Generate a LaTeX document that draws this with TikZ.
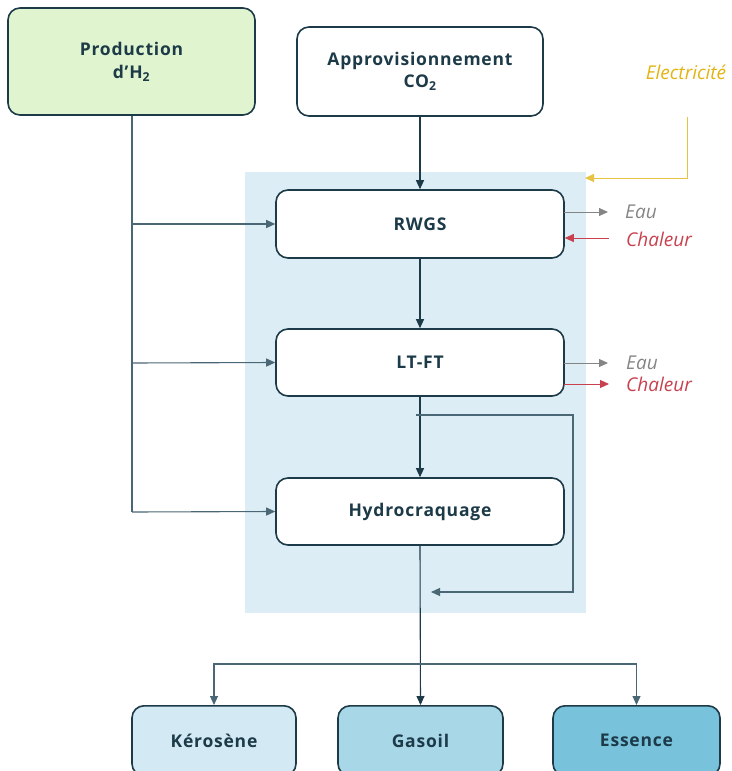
\documentclass[tikz,border=0pt]{standalone}
\usepackage{fontspec}
\setmainfont{Open Sans}
\usetikzlibrary{arrows.meta}
\definecolor{ink}{HTML}{1C3A47}
\definecolor{wire}{HTML}{4A6775}
\definecolor{h2fill}{HTML}{E0F4CF}
\definecolor{zone}{HTML}{DCEDF5}
\definecolor{kfill}{HTML}{D3EAF4}
\definecolor{gfill}{HTML}{A8D7E7}
\definecolor{efill}{HTML}{78C2DB}
\definecolor{elec}{HTML}{E2B411}
\definecolor{waterc}{HTML}{858585}
\definecolor{heatc}{HTML}{C8414F}
\tikzset{
  x=1pt, y=-1pt,
  box/.style={draw=ink, line width=1.6pt, rounded corners=12pt, fill=white,
    font=\bfseries\fontsize{17.5}{24}\selectfont\addfontfeatures{LetterSpace=4.5}, text=ink, align=center, inner sep=0pt},
  flow/.style={draw=ink, line width=1.1pt, -{Triangle[length=9pt,width=8pt]}},
  line/.style={draw=wire, line width=1.1pt},
  side/.style={font=\itshape\fontsize{19}{22}\selectfont, anchor=west, inner sep=0pt},
}
\begin{document}
\begin{tikzpicture}
\useasboundingbox (0,0) rectangle (731,771);
% process area
\fill[zone] (245,172) rectangle (586,613);

% boxes
\node[box, fill=h2fill, minimum width=247pt, minimum height=107pt] (h2) at (131.5,61.5) {\raisebox{-2.5pt}{Production}\\\raisebox{-1.5pt}{d’H\textsubscript{2}}};
\node[box, minimum width=246pt, minimum height=89pt] (co2) at (420,71.5) {\raisebox{-1.5pt}{Approvisionnement}\\CO\textsubscript{2}};
\node[box, minimum width=288pt, minimum height=68pt] (rwgs) at (420,224) {RWGS};
\node[box, minimum width=288pt, minimum height=67pt] (ltft) at (420,362.5) {LT-FT};
\node[box, minimum width=288pt, minimum height=67pt] (hc) at (420,511.5) {Hydrocraquage};
\node[box, fill=kfill, minimum width=164pt, minimum height=70pt, anchor=north] (ker) at (214,705) {Kérosène};
\node[box, fill=gfill, minimum width=165pt, minimum height=70pt, anchor=north] (gas) at (420.5,705) {Gasoil};
\node[box, fill=efill, minimum width=167pt, minimum height=70pt, anchor=north] (ess) at (636.5,705) {Essence};

% side labels
\node[side, text=elec, anchor=center] (el) at (686,72) {Electricité};
\node[side, text=waterc] (eau1) at (625,212) {Eau};
\node[side, text=heatc] (ch1) at (626,239) {Chaleur};
\node[side, text=waterc] (eau2) at (626,363) {Eau};
\node[side, text=heatc] (ch2) at (626,384) {Chaleur};

% main chain
\draw[flow] (co2.south) -- (rwgs.north);
\draw[flow] (rwgs.south) -- (ltft.north);
\draw[flow] (ltft.south) -- (hc.north);

% hydrogen supply
\coordinate (hb) at (132,512);
\draw[line] (h2.south -| hb) -- (hb);
\draw[flow, draw=wire] (132,224) -- (rwgs.west);
\draw[flow, draw=wire] (132,363) -- (ltft.west);
\draw[flow, draw=wire] (hb) -- (hc.west);

% bypass of the hydrocracker
\coordinate (bp0) at (416,415);
\coordinate (bp1) at (573,415);
\coordinate (bp2) at (573,592);
\coordinate (bp3) at (431,592);
\draw[flow, draw=wire] (bp0) -- (bp1) -- (bp2) -- (bp3);

% product split
\coordinate (split) at (421,664);
\draw[flow] (hc.south) -- (gas.north);
\draw[flow, draw=wire] (split) -| (ker.north);
\draw[flow, draw=wire] (split) -| (ess.north);

% electricity
\coordinate (e0) at (687,117);
\coordinate (e1) at (687,178);
\draw[flow, draw=elec!80!white, line width=1pt] (e0) -- (e1) -- (585,178);

% utilities
\draw[flow, draw=waterc, line width=1pt] (564,212) -- (608,212);
\draw[flow, draw=heatc, line width=1pt] (609,238) -- (rwgs.east |- 0,238);
\draw[flow, draw=waterc, line width=1pt] (564,363) -- (608,363);
\draw[flow, draw=heatc, line width=1pt] (564,384) -- (609,384);
\end{tikzpicture}
\end{document}
